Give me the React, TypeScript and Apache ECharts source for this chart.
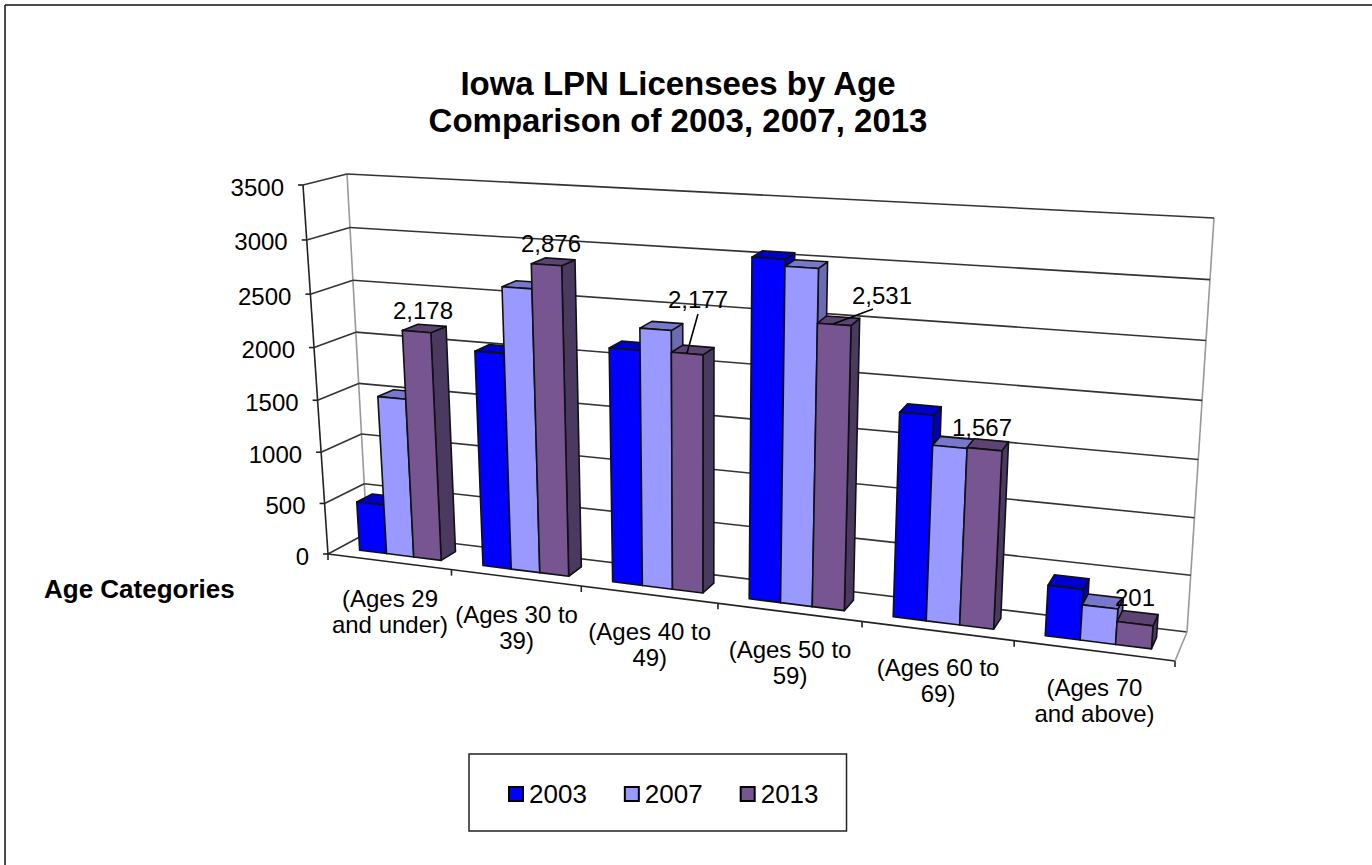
import React, { useEffect, useRef } from "react";
import * as echarts from "echarts";

const categories = ["(Ages 29\nand under)", "(Ages 30 to\n39)", "(Ages 40 to\n49)", "(Ages 50 to\n59)", "(Ages 60 to\n69)", "(Ages 70\nand above)"];
const years = ["2003", "2007", "2013"];
const values2003 = [480, 2040, 2170, 3060, 1820, 445];
const values2007 = [1530, 2650, 2370, 3000, 1560, 310];
const values2013 = [2178, 2876, 2177, 2531, 1567, 201];
const valueTicks = [0, 500, 1000, 1500, 2000, 2500, 3000, 3500];
const pointLabels = ["2,178", "2,876", "2,177", "2,531", "1,567", "201"];

// Layout: page positions of the corners of the 3D box
const FONT = '"Liberation Sans", Arial, sans-serif';
const C = {
  fl0: [328, 554], fr0: [1175, 661], bl0: [367, 533], br0: [1187, 632],
  fl1: [303, 185], fr1: [1208, 236], bl1: [347, 174], br1: [1214, 218],
};
const G = { left: 100, top: 100, width: 600, height: 350 };
const persU = 1.172;
const persV = 1.05;
const barDepth = [0.3, 0.7];
const labelCenters = [[423, 310], [551, 243], [698, 299], [882, 295], [982, 427], [1135, 597]];
const leaderLines: Record<number, number[][]> = {
  2: [[698, 314], [687, 353]],
  3: [[873, 309], [833, 324]],
};

const faces = [
  { front: "#0000FF", side: "#0000B4", top: "#0000CC" },
  { front: "#9999FF", side: "#6B6BB3", top: "#7777CC" },
  { front: "#765590", side: "#4A3A60", top: "#5B4473" },
];

const lerp = (a: number[], b: number[], t: number) => [a[0] + (b[0] - a[0]) * t, a[1] + (b[1] - a[1]) * t];
const pers = (t: number, w: number) => t / (t + w * (1 - t));

// project grid pixel + depth onto the tilted box
function project(p: number[], d: number) {
  const u = pers((p[0] - G.left) / G.width, persU);
  const v = pers((G.top + G.height - p[1]) / G.height, persV);
  const f0 = lerp(C.fl0, C.fr0, u);
  const f1 = lerp(C.fl1, C.fr1, u);
  const b0 = lerp(C.bl0, C.br0, u);
  const b1 = lerp(C.bl1, C.br1, u);
  return lerp(lerp(f0, f1, v), lerp(b0, b1, v), d);
}

const poly = (points: number[][], fill: string) => ({
  type: "polygon",
  shape: { points },
  style: { fill, stroke: "#111", lineWidth: 1.6, lineJoin: "round" },
});
const seg = (a: number[], b: number[], stroke: string, lineWidth = 1.6) => ({
  type: "line",
  shape: { x1: a[0], y1: a[1], x2: b[0], y2: b[1] },
  style: { stroke, lineWidth },
});

const barSeries = (name: string, values: number[], idx: number) => ({
  type: "custom",
  name,
  coordinateSystem: "cartesian2d",
  data: values.map((v, i) => [i, v]),
  encode: { x: 0, y: 1 },
  itemStyle: { color: faces[idx].front },
  z: 3,
  renderItem: (_: any, api: any) => {
    const c = api.coord([api.value(0), api.value(1)]);
    const base = api.coord([api.value(0), 0]);
    const band = api.size([1, 0])[0];
    const barW = band * (2 / 9);
    const x0 = c[0] - band / 2 + band / 6 + idx * barW;
    const x1 = x0 + barW;
    const [d0, d1] = barDepth;
    const A = project([x0, base[1]], d0);
    const B = project([x1, base[1]], d0);
    const B2 = project([x1, base[1]], d1);
    const T0 = project([x0, c[1]], d0);
    const T1 = project([x1, c[1]], d0);
    const T2 = project([x1, c[1]], d1);
    const T3 = project([x0, c[1]], d1);
    return {
      type: "group",
      children: [
        poly([B, B2, T2, T1], faces[idx].side),
        poly([T0, T1, T2, T3], faces[idx].top),
        poly([A, B, T1, T0], faces[idx].front),
      ],
    };
  },
});

const wallSeries = {
  type: "custom",
  name: "walls",
  coordinateSystem: "cartesian2d",
  data: valueTicks.map((v) => [0, v]),
  encode: { x: 0, y: 1 },
  silent: true,
  z: 1,
  renderItem: (_: any, api: any) => {
    const value = api.value(1);
    const y = api.coord([0, value])[1];
    const xL = G.left;
    const xR = G.left + G.width;
    const fl = project([xL, y], 0);
    const bl = project([xL, y], 1);
    const br = project([xR, y], 1);
    const children: any[] = [
      seg(fl, bl, "#333"),
      seg(bl, br, "#333"),
      seg([fl[0] - 5, fl[1]], fl, "#222"),
      {
        type: "text",
        style: {
          x: fl[0] - 19, y: fl[1] + 2, text: String(value), fill: "#000",
          font: `24px ${FONT}`, align: "right", verticalAlign: "middle",
        },
      },
    ];
    if (value === 0) {
      children.push(
        seg(fl, project([xL, G.top], 0), "#222"),
        seg(bl, project([xL, G.top], 1), "#999"),
        seg(br, project([xR, G.top], 1), "#999"),
        seg(project([xL, y], 0), project([xR, y], 0), "#222"),
        seg(project([xR, y], 0), br, "#999"),
      );
    }
    return { type: "group", children };
  },
};

const categorySeries = {
  type: "custom",
  name: "categories",
  coordinateSystem: "cartesian2d",
  data: categories.map((_, i) => [i, 0]),
  encode: { x: 0, y: 1 },
  silent: true,
  z: 1,
  renderItem: (_: any, api: any) => {
    const i = api.value(0);
    const c = api.coord([i, 0]);
    const band = api.size([1, 0])[0];
    const mid = project(c, 0);
    const right = project([c[0] + band / 2, c[1]], 0);
    const children: any[] = [
      seg(right, [right[0], right[1] + 6], "#222"),
      {
        type: "text",
        style: {
          x: mid[0] + 1, y: mid[1] + 50, text: categories[i], fill: "#000",
          font: `24px ${FONT}`, lineHeight: 26, align: "center", verticalAlign: "middle",
        },
      },
    ];
    if (i === 0) {
      const left = project([c[0] - band / 2, c[1]], 0);
      children.push(seg(left, [left[0], left[1] + 6], "#222"));
    }
    return { type: "group", children };
  },
};

const labelSeries = {
  type: "custom",
  name: "labels",
  coordinateSystem: "cartesian2d",
  data: values2013.map((v, i) => [i, v]),
  encode: { x: 0, y: 1 },
  silent: true,
  z: 5,
  renderItem: (_: any, api: any) => {
    const i = api.value(0);
    const [x, y] = labelCenters[i];
    const children: any[] = [
      {
        type: "text",
        style: {
          x, y, text: pointLabels[i], fill: "#000",
          font: `24px ${FONT}`, align: "center", verticalAlign: "middle",
        },
      },
    ];
    if (leaderLines[i]) children.push(seg(leaderLines[i][0], leaderLines[i][1], "#000"));
    return { type: "group", children };
  },
};

export default function App() {
  const ref = useRef<HTMLDivElement>(null);
  useEffect(() => {
    document.body.style.margin = "0";
    const chart = echarts.init(ref.current!, undefined, { renderer: "svg" });
    chart.setOption({
      animation: false,
      backgroundColor: "#fff",
      title: {
        text: "Iowa LPN Licensees by Age\nComparison of 2003, 2007, 2013",
        left: 673, top: 60, textAlign: "center",
        textStyle: { fontFamily: FONT, fontSize: 33, fontWeight: "bold", color: "#000", lineHeight: 37 },
      },
      legend: {
        left: 469, top: 754,
        data: years,
        icon: "rect",
        itemWidth: 14, itemHeight: 14, itemGap: 37,
        padding: [27, 28, 24, 39],
        borderColor: "#222", borderWidth: 1.5, backgroundColor: "#fff",
        itemStyle: { borderColor: "#000", borderWidth: 2 },
        textStyle: { fontFamily: FONT, fontSize: 26, color: "#000", padding: [0, 0, 0, 1] },
        selectedMode: false,
      },
      grid: { ...G },
      xAxis: { type: "category", data: categories, show: false },
      yAxis: { type: "value", min: 0, max: 3500, interval: 500, show: false },
      graphic: [
        { type: "line", z: 0, shape: { x1: 5, y1: 5, x2: 1372, y2: 5 }, style: { stroke: "#111", lineWidth: 1.5 } },
        { type: "line", z: 0, shape: { x1: 5, y1: 5, x2: 5, y2: 865 }, style: { stroke: "#111", lineWidth: 1.5 } },
        { type: "text", left: 44, top: 576, style: { text: "Age Categories", fill: "#000", font: `bold 26px ${FONT}` } },
      ],
      series: [
        wallSeries,
        categorySeries,
        barSeries(years[0], values2003, 0),
        barSeries(years[1], values2007, 1),
        barSeries(years[2], values2013, 2),
        labelSeries,
      ],
    });
    return () => chart.dispose();
  }, []);
  return <div ref={ref} style={{ position: "absolute", left: 0, top: 0, width: 1372, height: 865 }} />;
}
